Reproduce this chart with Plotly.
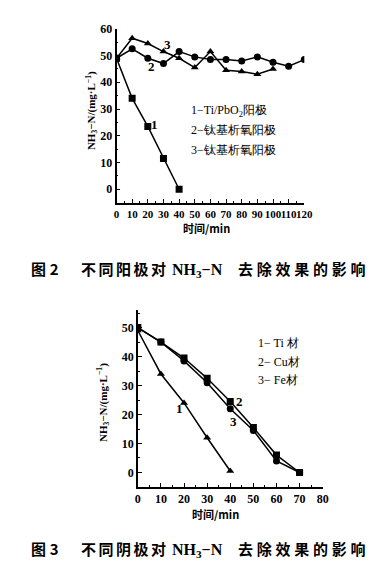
import plotly.graph_objects as go

# Figure 2 data (anodes)
t_top = [0, 10, 20, 30, 40, 50, 60, 70, 80, 90, 100, 110, 120]
s1_x = [0, 10, 20, 30, 40]
s1_y = [49, 34, 23.5, 11.5, 0]
s2_y = [49, 52.5, 49, 47, 51.5, 49.5, 48.5, 48.5, 48, 49.5, 47.5, 46, 48.5]
s3_x = [0, 10, 20, 30, 40, 50, 60, 70, 80, 90, 100]
s3_y = [49, 56.5, 54.5, 51.5, 49, 45.5, 51.5, 44.5, 44, 43, 45]

# Figure 3 data (cathodes)
ti_x = [0, 10, 20, 30, 40]
ti_y = [49, 34, 24, 12, 0.5]
cu_x = [0, 10, 20, 30, 40, 50, 60, 70]
cu_y = [50, 45, 39.5, 32.5, 24.5, 15.5, 6, 0]
fe_x = [0, 10, 20, 30, 40, 50, 60, 70]
fe_y = [50, 45, 38.5, 31, 22, 14.5, 4, 0]

top_ticks = [0, 10, 20, 30, 40, 50, 60, 70, 80, 90, 100, 110, 120]
bot_ticks = [0, 10, 20, 30, 40, 50, 60, 70, 80]

# page body has an 8px margin; size the figure so it fits the 383x563 window
OFF = 8
W, H = 383 - OFF, 563 - OFF
def px(x):
    return (x - OFF) / W
def py(y):
    return 1 - (y - OFF) / H

fig = go.Figure()
line = dict(color="black", width=1.5)
mk = lambda s: dict(symbol=s, size=7, color="black")

fig.add_trace(go.Scatter(x=s1_x, y=s1_y, mode="lines+markers", line=line, marker=mk("square"), xaxis="x", yaxis="y"))
fig.add_trace(go.Scatter(x=t_top, y=s2_y, mode="lines+markers", line=line, marker=mk("circle"), xaxis="x", yaxis="y"))
fig.add_trace(go.Scatter(x=s3_x, y=s3_y, mode="lines+markers", line=line, marker=mk("triangle-up"), xaxis="x", yaxis="y"))

fig.add_trace(go.Scatter(x=ti_x, y=ti_y, mode="lines+markers", line=line, marker=mk("triangle-up"), xaxis="x2", yaxis="y2"))
fig.add_trace(go.Scatter(x=cu_x, y=cu_y, mode="lines+markers", line=line, marker=mk("square"), xaxis="x2", yaxis="y2"))
fig.add_trace(go.Scatter(x=fe_x, y=fe_y, mode="lines+markers", line=line, marker=mk("circle"), xaxis="x2", yaxis="y2"))

def tf(size):
    return dict(family="Liberation Serif", size=size, color="black", weight="bold")

axcommon = dict(showgrid=False, zeroline=False, showline=True, linecolor="black", linewidth=1.5,
                ticks="inside", ticklen=4, tickcolor="black", tickwidth=1.2, tickangle=0,
                minor=dict(ticks="inside", ticklen=2, dtick=5, tickcolor="black"))

fig.update_layout(
    width=W, height=H, showlegend=False,
    paper_bgcolor="white", plot_bgcolor="white",
    margin=dict(l=0, r=0, t=0, b=0),
    xaxis=dict(domain=[px(117), px(311)], range=[0, 120], tickvals=top_ticks, anchor="y",
               tickfont=tf(11), **axcommon),
    yaxis=dict(domain=[py(198), py(22)], range=[-5, 60], dtick=10, anchor="x", tickfont=tf(12), **axcommon),
    xaxis2=dict(domain=[px(139), px(330)], range=[0, 80], tickvals=bot_ticks, anchor="y2",
                tickfont=tf(12), **axcommon),
    yaxis2=dict(domain=[py(486), py(307)], range=[-5, 56], dtick=10, anchor="x2", tickfont=tf(12), **axcommon),
)

ann = []
def txt(x, y, s, size=12, family="Liberation Serif", xanchor="center", **kw):
    ann.append(dict(x=px(x), y=py(y), xref="paper", yref="paper", text=s, showarrow=False,
                    xanchor=xanchor, yanchor="middle",
                    font=dict(family=family, size=size, color="black"), **kw))

# axis titles
ylab = "<b>NH<sub>3</sub>−N/(mg·L<sup>−1</sup>)</b>"
txt(91, 105, ylab, size=11, textangle=-90)
txt(103, 400, ylab, size=11, textangle=-90)
txt(210, 224, "<b>时间/min</b>", size=11, family="Noto Sans CJK SC")
txt(219, 513, "<b>时间/min</b>", size=11, family="Noto Sans CJK SC")

# legend text
txt(192, 105, "1−Ti/PbO<sub>2</sub>阳极", size=12, xanchor="left")
txt(192, 124, "2−钛基析氧阳极", size=12, xanchor="left")
txt(192, 145, "3−钛基析氧阳极", size=12, xanchor="left")
txt(261, 340, "1− Ti 材", size=12, xanchor="left")
txt(261, 359, "2− Cu材", size=12, xanchor="left")
txt(261, 378, "3− Fe材", size=12, xanchor="left")

# line labels
txt(156, 119, "<b>1</b>", size=13)
txt(153, 60, "<b>2</b>", size=13)
txt(170, 38, "<b>3</b>", size=13)
txt(182, 407, "<b>1</b>", size=13)
txt(244, 399, "<b>2</b>", size=13)
txt(238, 420, "<b>3</b>", size=13)

# captions (spaced characters like the printed figure captions)
cap_font = "Noto Sans CJK SC"
def spaced(s, sp):
    return sp.join(list(s))
for yc, fig_no, word in [(265, "2", "不同阳极对"), (548, "3", "不同阴极对")]:
    txt(27, yc, "<b>图\u2005" + fig_no + "</b>", size=15, family=cap_font, xanchor="left")
    txt(78, yc, "<b>" + spaced(word, "\u2006") + "</b>", size=15, family=cap_font, xanchor="left")
    txt(201, yc + 2, "<b>NH<sub>3</sub>−N</b>", size=16, family="Liberation Serif")
    txt(240, yc, "<b>" + spaced("去除效果的影响", "\u2005") + "</b>", size=15, family=cap_font, xanchor="left")

fig.update_layout(annotations=ann)
fig.write_html("out.html")
